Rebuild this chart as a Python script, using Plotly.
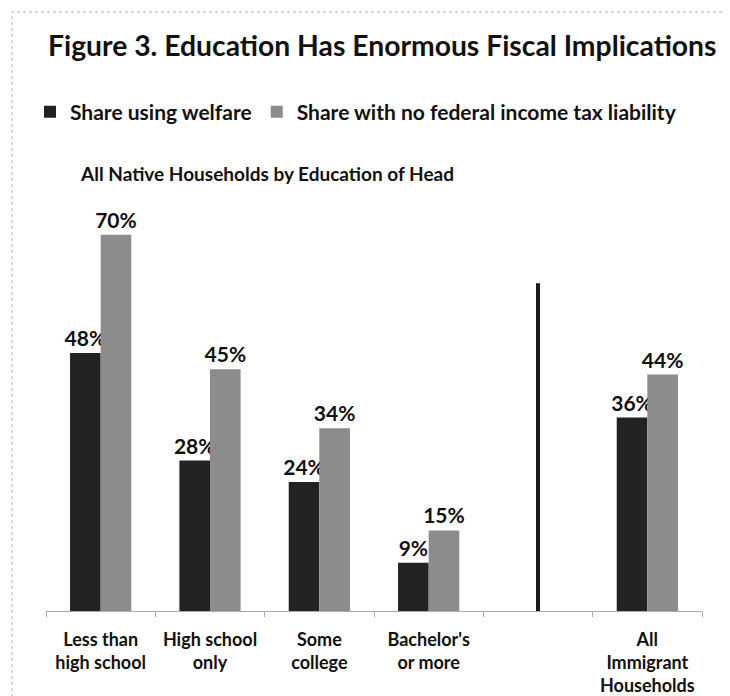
import plotly.graph_objects as go

categories = ["Less than<br>high school", "High school<br>only", "Some<br>college",
              "Bachelor's<br>or more", " ", "All<br>Immigrant<br>Households"]
welfare = [48, 28, 24, 9, None, 36]
no_tax = [70, 45, 34, 15, None, 44]
series_names = ["Share using welfare", "Share with no federal income tax liability"]

FONT = "Lato, 'Open Sans', sans-serif"
OFF = 8  # page body margin

def lbl(vals):
    return [f"{v}%" if v is not None else "" for v in vals]

fig = go.Figure()
fig.add_trace(go.Bar(x=categories, y=welfare, name=series_names[0],
                     marker=dict(color="#222222", line=dict(width=0)),
                     text=lbl(welfare), textposition="outside", cliponaxis=False,
                     constraintext="none",
                     textfont=dict(size=21, color="#111111", family=FONT, weight="bold")))
fig.add_trace(go.Bar(x=categories, y=no_tax, name=series_names[1],
                     marker=dict(color="#8c8c8c", line=dict(width=0)),
                     text=lbl(no_tax), textposition="outside", cliponaxis=False,
                     constraintext="none",
                     textfont=dict(size=21, color="#111111", family=FONT, weight="bold")))

W, H = 730 - OFF, 696 - OFF
# plot area in page pixels
PX0, PX1, PY0, PY1 = 46, 702, 208, 611
L, R, T, B = PX0 - OFF, W - (PX1 - OFF), PY0 - OFF, H - (PY1 - OFF)
pw, ph = W - L - R, H - T - B

def px_x(p):
    return (p - OFF - L) / pw

def px_y(p):
    return (H - B - (p - OFF)) / ph

fig.update_layout(
    width=W, height=H,
    margin=dict(l=L, r=R, t=T, b=B, autoexpand=False),
    paper_bgcolor="white", plot_bgcolor="white",
    barmode="group", bargap=0.44, bargroupgap=0,
    font=dict(family=FONT, color="#111111"),
    showlegend=True,
    legend=dict(orientation="h", x=(30 - OFF) / W, y=1 - (112 - OFF) / H,
                xref="container", yref="container",
                xanchor="left", yanchor="middle",
                font=dict(size=21, family=FONT, color="#111111", weight="bold"),
                traceorder="normal"),
    xaxis=dict(type="category", showline=True, linecolor="#aaaaaa", linewidth=1,
               ticks="outside", tickson="boundaries", ticklen=5, tickcolor="#aaaaaa",
               ticklabelstandoff=12, automargin=False,
               tickfont=dict(size=18, family=FONT, color="#111111", weight="bold"),
               showgrid=False, zeroline=False, fixedrange=True),
    yaxis=dict(range=[0, 75], visible=False, showgrid=False, zeroline=False, automargin=False),
    annotations=[
        dict(text="Figure 3. Education Has Enormous Fiscal Implications",
             xref="paper", yref="paper", x=px_x(46), y=px_y(45), xanchor="left", yanchor="middle",
             showarrow=False, font=dict(size=28.3, family=FONT, color="#111111", weight="bold")),
        dict(text="All Native Households by Education of Head",
             xref="paper", yref="paper", x=px_x(78), y=px_y(173), xanchor="left", yanchor="middle",
             showarrow=False, font=dict(size=19, family=FONT, color="#111111", weight="bold")),
    ],
    shapes=[
        dict(type="line", xref="x", yref="y", x0=4, x1=4, y0=0, y1=61,
             line=dict(color="#1a1a1a", width=4)),
        dict(type="rect", xref="paper", yref="paper", x0=px_x(12), x1=px_x(760),
             y0=px_y(720), y1=px_y(12), line=dict(color="#b5b5b5", width=1, dash="dot"),
             layer="below"),
    ],
)
fig.write_html("out.html")
